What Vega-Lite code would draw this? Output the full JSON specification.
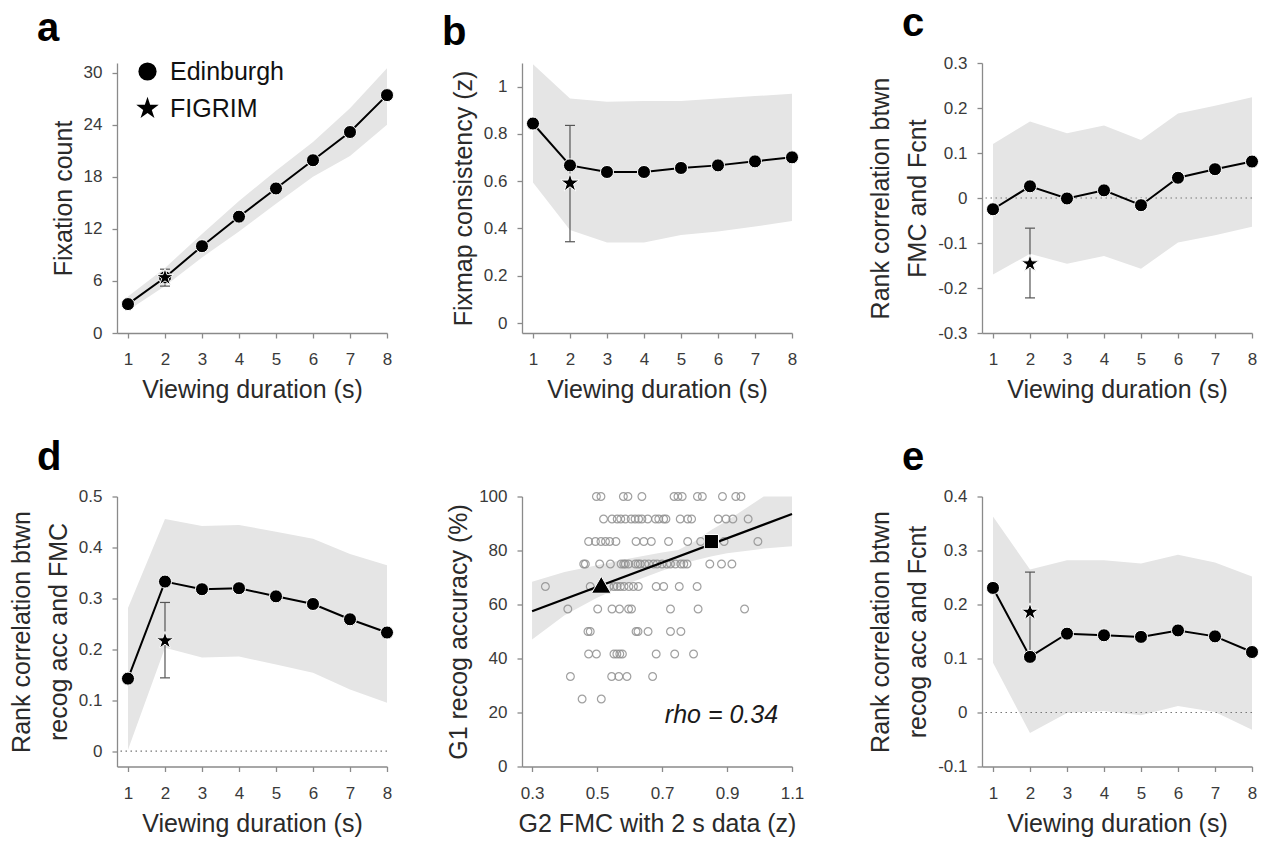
{
  "$schema": "https://vega.github.io/schema/vega-lite/v6.json",
  "background": "white",
  "padding": {"left": 9, "top": 4, "right": 5, "bottom": 5},
  "columns": 5,
  "spacing": {"row": 163.5, "column": 0},
  "bounds": "flush",
  "align": "each",
  "resolve": {"scale": {"shape": "independent"}, "legend": {"shape": "independent"}},
  "datasets": {
    "empty": [],
    "zero": [{"y": 0}],
    "a": [
      {"dur": 1, "mean": 3.33, "lo": 2.6, "hi": 4.2},
      {"dur": 2, "mean": 6.4, "lo": 5.4, "hi": 7.5},
      {"dur": 3, "mean": 10.0, "lo": 8.7, "hi": 11.4},
      {"dur": 4, "mean": 13.4, "lo": 11.7, "hi": 15.2},
      {"dur": 5, "mean": 16.65, "lo": 14.9, "hi": 18.7},
      {"dur": 6, "mean": 19.9, "lo": 18.0, "hi": 22.0},
      {"dur": 7, "mean": 23.15, "lo": 20.4, "hi": 25.9},
      {"dur": 8, "mean": 27.4, "lo": 24.0, "hi": 30.5}
    ],
    "a_star": [{"dur": 2, "val": 6.4, "elo": 5.4, "ehi": 7.35}],
    "b": [
      {"dur": 1, "mean": 0.844, "lo": 0.595, "hi": 1.095},
      {"dur": 2, "mean": 0.667, "lo": 0.394, "hi": 0.95},
      {"dur": 3, "mean": 0.639, "lo": 0.341, "hi": 0.936},
      {"dur": 4, "mean": 0.639, "lo": 0.341, "hi": 0.939},
      {"dur": 5, "mean": 0.656, "lo": 0.372, "hi": 0.939},
      {"dur": 6, "mean": 0.667, "lo": 0.387, "hi": 0.95},
      {"dur": 7, "mean": 0.684, "lo": 0.408, "hi": 0.96},
      {"dur": 8, "mean": 0.701, "lo": 0.432, "hi": 0.97}
    ],
    "b_star": [{"dur": 2, "val": 0.592, "elo": 0.344, "ehi": 0.836}],
    "c": [
      {"dur": 1, "mean": -0.025, "lo": -0.17, "hi": 0.12},
      {"dur": 2, "mean": 0.026, "lo": -0.124, "hi": 0.17},
      {"dur": 3, "mean": -0.001, "lo": -0.146, "hi": 0.144},
      {"dur": 4, "mean": 0.017, "lo": -0.129, "hi": 0.161},
      {"dur": 5, "mean": -0.016, "lo": -0.157, "hi": 0.129},
      {"dur": 6, "mean": 0.045, "lo": -0.099, "hi": 0.188},
      {"dur": 7, "mean": 0.064, "lo": -0.083, "hi": 0.205},
      {"dur": 8, "mean": 0.081, "lo": -0.064, "hi": 0.224}
    ],
    "c_star": [{"dur": 2, "val": -0.146, "elo": -0.222, "ehi": -0.067}],
    "d": [
      {"dur": 1, "mean": 0.1425, "lo": 0.003, "hi": 0.281},
      {"dur": 2, "mean": 0.333, "lo": 0.203, "hi": 0.456},
      {"dur": 3, "mean": 0.318, "lo": 0.184, "hi": 0.442},
      {"dur": 4, "mean": 0.32, "lo": 0.186, "hi": 0.444},
      {"dur": 5, "mean": 0.304, "lo": 0.17, "hi": 0.431},
      {"dur": 6, "mean": 0.289, "lo": 0.154, "hi": 0.417},
      {"dur": 7, "mean": 0.259, "lo": 0.121, "hi": 0.387},
      {"dur": 8, "mean": 0.233, "lo": 0.095, "hi": 0.365}
    ],
    "d_star": [{"dur": 2, "val": 0.217, "elo": 0.144, "ehi": 0.292}],
    "e": [
      {"dur": 1, "mean": 0.2307, "lo": 0.092, "hi": 0.363},
      {"dur": 2, "mean": 0.103, "lo": -0.038, "hi": 0.265},
      {"dur": 3, "mean": 0.146, "lo": -0.001, "hi": 0.282},
      {"dur": 4, "mean": 0.143, "lo": 0.003, "hi": 0.282},
      {"dur": 5, "mean": 0.14, "lo": -0.005, "hi": 0.276},
      {"dur": 6, "mean": 0.152, "lo": 0.012, "hi": 0.292},
      {"dur": 7, "mean": 0.141, "lo": 0.001, "hi": 0.278},
      {"dur": 8, "mean": 0.112, "lo": -0.032, "hi": 0.252}
    ],
    "e_star": [{"dur": 2, "val": 0.186, "elo": 0.112, "ehi": 0.26}],
    "sc_band": [
      {"x": 0.3, "lo": 47, "hi": 68.4},
      {"x": 0.4, "lo": 56, "hi": 72},
      {"x": 0.5, "lo": 62.5, "hi": 74.5},
      {"x": 0.6, "lo": 68, "hi": 77},
      {"x": 0.7, "lo": 72.5, "hi": 79.3},
      {"x": 0.75, "lo": 74.5, "hi": 80.2},
      {"x": 0.8, "lo": 76.3, "hi": 83.3},
      {"x": 0.85, "lo": 77.8, "hi": 87.5},
      {"x": 0.9, "lo": 79, "hi": 91},
      {"x": 1.0, "lo": 80.5, "hi": 99},
      {"x": 1.013, "lo": 80.7, "hi": 100},
      {"x": 1.1, "lo": 81.6, "hi": 100}
    ],
    "sc_fit": [{"x": 0.3, "y": 57.5}, {"x": 1.1, "y": 93.5}],
    "sc_tri": [{"x": 0.513, "y": 67.3}],
    "sc_sq": [{"x": 0.852, "y": 83.3}],
    "sc_text": [{"x": 0.883, "y": 19, "label": "rho = 0.34"}],
    "sc_pts": [
      {"x": 0.498, "y": 100}, {"x": 0.512, "y": 100}, {"x": 0.581, "y": 100}, {"x": 0.595, "y": 100}, {"x": 0.638, "y": 100}, {"x": 0.737, "y": 100}, {"x": 0.749, "y": 100}, {"x": 0.762, "y": 100}, {"x": 0.809, "y": 100}, {"x": 0.824, "y": 100}, {"x": 0.886, "y": 100}, {"x": 0.927, "y": 100}, {"x": 0.943, "y": 100},
      {"x": 0.52, "y": 91.67}, {"x": 0.546, "y": 91.67}, {"x": 0.562, "y": 91.67}, {"x": 0.573, "y": 91.67}, {"x": 0.587, "y": 91.67}, {"x": 0.605, "y": 91.67}, {"x": 0.617, "y": 91.67}, {"x": 0.628, "y": 91.67}, {"x": 0.638, "y": 91.67}, {"x": 0.656, "y": 91.67}, {"x": 0.68, "y": 91.67}, {"x": 0.69, "y": 91.67}, {"x": 0.705, "y": 91.67}, {"x": 0.712, "y": 91.67}, {"x": 0.756, "y": 91.67}, {"x": 0.779, "y": 91.67}, {"x": 0.791, "y": 91.67}, {"x": 0.873, "y": 91.67}, {"x": 0.897, "y": 91.67}, {"x": 0.918, "y": 91.67}, {"x": 0.965, "y": 91.67},
      {"x": 0.474, "y": 83.33}, {"x": 0.495, "y": 83.33}, {"x": 0.512, "y": 83.33}, {"x": 0.526, "y": 83.33}, {"x": 0.539, "y": 83.33}, {"x": 0.558, "y": 83.33}, {"x": 0.62, "y": 83.33}, {"x": 0.644, "y": 83.33}, {"x": 0.667, "y": 83.33}, {"x": 0.72, "y": 83.33}, {"x": 0.779, "y": 83.33}, {"x": 0.819, "y": 83.33}, {"x": 0.891, "y": 83.33}, {"x": 0.995, "y": 83.33},
      {"x": 0.459, "y": 75}, {"x": 0.464, "y": 75}, {"x": 0.508, "y": 75}, {"x": 0.541, "y": 75}, {"x": 0.574, "y": 75}, {"x": 0.582, "y": 75}, {"x": 0.587, "y": 75}, {"x": 0.597, "y": 75}, {"x": 0.618, "y": 75}, {"x": 0.626, "y": 75}, {"x": 0.633, "y": 75}, {"x": 0.647, "y": 75}, {"x": 0.659, "y": 75}, {"x": 0.674, "y": 75}, {"x": 0.685, "y": 75}, {"x": 0.7, "y": 75}, {"x": 0.715, "y": 75}, {"x": 0.726, "y": 75}, {"x": 0.741, "y": 75}, {"x": 0.758, "y": 75}, {"x": 0.767, "y": 75}, {"x": 0.777, "y": 75}, {"x": 0.847, "y": 75}, {"x": 0.883, "y": 75}, {"x": 0.915, "y": 75},
      {"x": 0.341, "y": 66.67}, {"x": 0.479, "y": 66.67}, {"x": 0.51, "y": 66.67}, {"x": 0.537, "y": 66.67}, {"x": 0.552, "y": 66.67}, {"x": 0.562, "y": 66.67}, {"x": 0.572, "y": 66.67}, {"x": 0.583, "y": 66.67}, {"x": 0.598, "y": 66.67}, {"x": 0.612, "y": 66.67}, {"x": 0.627, "y": 66.67}, {"x": 0.682, "y": 66.67}, {"x": 0.705, "y": 66.67}, {"x": 0.753, "y": 66.67}, {"x": 0.808, "y": 66.67},
      {"x": 0.41, "y": 58.33}, {"x": 0.502, "y": 58.33}, {"x": 0.546, "y": 58.33}, {"x": 0.569, "y": 58.33}, {"x": 0.597, "y": 58.33}, {"x": 0.606, "y": 58.33}, {"x": 0.726, "y": 58.33}, {"x": 0.811, "y": 58.33}, {"x": 0.954, "y": 58.33},
      {"x": 0.472, "y": 50}, {"x": 0.479, "y": 50}, {"x": 0.62, "y": 50}, {"x": 0.626, "y": 50}, {"x": 0.657, "y": 50}, {"x": 0.726, "y": 50}, {"x": 0.758, "y": 50},
      {"x": 0.474, "y": 41.67}, {"x": 0.498, "y": 41.67}, {"x": 0.552, "y": 41.67}, {"x": 0.561, "y": 41.67}, {"x": 0.57, "y": 41.67}, {"x": 0.578, "y": 41.67}, {"x": 0.682, "y": 41.67}, {"x": 0.739, "y": 41.67}, {"x": 0.797, "y": 41.67},
      {"x": 0.418, "y": 33.33}, {"x": 0.545, "y": 33.33}, {"x": 0.567, "y": 33.33}, {"x": 0.592, "y": 33.33}, {"x": 0.671, "y": 33.33},
      {"x": 0.454, "y": 25}, {"x": 0.513, "y": 25}
    ]
  },
  "concat": [
    {
      "width": 270, "height": 270,
      "title": {"text": "a"},
      "layer": [
        {"data": {"name": "a"}, "mark": {"type": "area", "color": "#e5e5e5"},
         "encoding": {
           "x": {"field": "dur", "type": "quantitative", "scale": {"domain": [0.703, 8], "nice": false, "zero": false}, "axis": {"values": [1, 2, 3, 4, 5, 6, 7, 8], "tickCount": 10, "title": "Viewing duration (s)"}},
           "y": {"field": "lo", "type": "quantitative", "scale": {"domain": [0, 31.1], "nice": false, "zero": false}, "axis": {"values": [0, 6, 12, 18, 24, 30], "tickCount": 10, "title": "Fixation count"}},
           "y2": {"field": "hi"}}},
        {"data": {"name": "a_star"}, "mark": {"type": "rule", "color": "#555", "strokeWidth": 1.2},
         "encoding": {"x": {"field": "dur", "type": "quantitative"}, "y": {"field": "elo", "type": "quantitative"}, "y2": {"field": "ehi"}}},
        {"data": {"name": "a_star"}, "transform": [{"fold": ["elo", "ehi"], "as": ["end", "v"]}],
         "mark": {"type": "point", "shape": "stroke", "size": 100, "stroke": "#555", "strokeWidth": 1.2, "filled": false, "opacity": 1},
         "encoding": {"x": {"field": "dur", "type": "quantitative"}, "y": {"field": "v", "type": "quantitative"}}},
        {"data": {"name": "a"}, "mark": {"type": "line", "color": "black", "strokeWidth": 2},
         "encoding": {"x": {"field": "dur", "type": "quantitative"}, "y": {"field": "mean", "type": "quantitative"}}},
        {"data": {"name": "a"}, "mark": {"type": "point", "filled": true, "fill": "black", "stroke": "white", "strokeWidth": 1, "size": 170, "opacity": 1},
         "encoding": {"x": {"field": "dur", "type": "quantitative"}, "y": {"field": "mean", "type": "quantitative"},
           "shape": {"datum": "Edinburgh", "type": "nominal",
             "scale": {"domain": ["Edinburgh", "FIGRIM"], "range": ["circle", "M0,-1.3L0.2919,-0.4017L1.2363,-0.4017L0.4723,0.1534L0.7641,1.0517L0,0.4966L-0.7641,1.0517L-0.4723,0.1534L-1.2363,-0.4017L-0.2919,-0.4017Z"]},
             "legend": {"orient": "none", "legendX": 18, "legendY": -4, "title": null, "labelFontSize": 25, "labelColor": "#111", "labelFont": "Liberation Sans", "symbolSize": 330, "symbolFillColor": "black", "symbolStrokeColor": "white", "symbolStrokeWidth": 1, "symbolOpacity": 1, "rowPadding": 9, "labelOffset": 10}}}},
        {"data": {"name": "a_star"}, "mark": {"type": "point", "filled": true, "fill": "black", "stroke": "white", "strokeWidth": 1, "size": 195, "opacity": 1},
         "encoding": {"x": {"field": "dur", "type": "quantitative"}, "y": {"field": "val", "type": "quantitative"}, "shape": {"datum": "FIGRIM", "type": "nominal"}}}
      ]
    },
    {"width": 135, "height": 270, "data": {"name": "empty"}, "mark": {"type": "point", "opacity": 0}},
    {
      "width": 270, "height": 270,
      "title": {"text": "b"},
      "layer": [
        {"data": {"name": "b"}, "mark": {"type": "area", "color": "#e5e5e5"},
         "encoding": {
           "x": {"field": "dur", "type": "quantitative", "scale": {"domain": [0.703, 8], "nice": false, "zero": false}, "axis": {"values": [1, 2, 3, 4, 5, 6, 7, 8], "tickCount": 10, "title": "Viewing duration (s)"}},
           "y": {"field": "lo", "type": "quantitative", "scale": {"domain": [-0.042, 1.1], "nice": false, "zero": false}, "axis": {"values": [0, 0.2, 0.4, 0.6, 0.8, 1], "tickCount": 10, "format": "~g", "title": "Fixmap consistency (z)"}},
           "y2": {"field": "hi"}}},
        {"data": {"name": "b_star"}, "mark": {"type": "rule", "color": "#555", "strokeWidth": 1.2},
         "encoding": {"x": {"field": "dur", "type": "quantitative"}, "y": {"field": "elo", "type": "quantitative"}, "y2": {"field": "ehi"}}},
        {"data": {"name": "b_star"}, "transform": [{"fold": ["elo", "ehi"], "as": ["end", "v"]}],
         "mark": {"type": "point", "shape": "stroke", "size": 100, "stroke": "#555", "strokeWidth": 1.2, "filled": false, "opacity": 1},
         "encoding": {"x": {"field": "dur", "type": "quantitative"}, "y": {"field": "v", "type": "quantitative"}}},
        {"data": {"name": "b"}, "mark": {"type": "line", "color": "black", "strokeWidth": 2},
         "encoding": {"x": {"field": "dur", "type": "quantitative"}, "y": {"field": "mean", "type": "quantitative"}}},
        {"data": {"name": "b"}, "mark": {"type": "point", "shape": "circle", "filled": true, "fill": "black", "stroke": "white", "strokeWidth": 1, "size": 170, "opacity": 1},
         "encoding": {"x": {"field": "dur", "type": "quantitative"}, "y": {"field": "mean", "type": "quantitative"}}},
        {"data": {"name": "b_star"}, "mark": {"type": "point", "shape": "M0,-1L0.2245,-0.309L0.951,-0.309L0.3633,0.118L0.5878,0.809L0,0.382L-0.5878,0.809L-0.3633,0.118L-0.951,-0.309L-0.2245,-0.309Z", "filled": true, "fill": "black", "stroke": "white", "strokeWidth": 1, "size": 380, "opacity": 1},
         "encoding": {"x": {"field": "dur", "type": "quantitative"}, "y": {"field": "val", "type": "quantitative"}}}
      ]
    },
    {"width": 190, "height": 270, "data": {"name": "empty"}, "mark": {"type": "point", "opacity": 0}},
    {
      "width": 270, "height": 270,
      "title": {"text": "c"},
      "layer": [
        {"data": {"name": "c"}, "mark": {"type": "area", "color": "#e5e5e5"},
         "encoding": {
           "x": {"field": "dur", "type": "quantitative", "scale": {"domain": [0.703, 8], "nice": false, "zero": false}, "axis": {"values": [1, 2, 3, 4, 5, 6, 7, 8], "tickCount": 10, "title": "Viewing duration (s)"}},
           "y": {"field": "lo", "type": "quantitative", "scale": {"domain": [-0.3, 0.3], "nice": false, "zero": false}, "axis": {"values": [-0.3, -0.2, -0.1, 0, 0.1, 0.2, 0.3], "tickCount": 10, "format": "~g", "title": ["Rank correlation btwn", "FMC and Fcnt"]}},
           "y2": {"field": "hi"}}},
        {"data": {"name": "zero"}, "mark": {"type": "rule", "color": "#777", "strokeWidth": 1.2, "strokeDash": [1.5, 3.5]},
         "encoding": {"y": {"field": "y", "type": "quantitative"}}},
        {"data": {"name": "c_star"}, "mark": {"type": "rule", "color": "#555", "strokeWidth": 1.2},
         "encoding": {"x": {"field": "dur", "type": "quantitative"}, "y": {"field": "elo", "type": "quantitative"}, "y2": {"field": "ehi"}}},
        {"data": {"name": "c_star"}, "transform": [{"fold": ["elo", "ehi"], "as": ["end", "v"]}],
         "mark": {"type": "point", "shape": "stroke", "size": 100, "stroke": "#555", "strokeWidth": 1.2, "filled": false, "opacity": 1},
         "encoding": {"x": {"field": "dur", "type": "quantitative"}, "y": {"field": "v", "type": "quantitative"}}},
        {"data": {"name": "c"}, "mark": {"type": "line", "color": "black", "strokeWidth": 2},
         "encoding": {"x": {"field": "dur", "type": "quantitative"}, "y": {"field": "mean", "type": "quantitative"}}},
        {"data": {"name": "c"}, "mark": {"type": "point", "shape": "circle", "filled": true, "fill": "black", "stroke": "white", "strokeWidth": 1, "size": 170, "opacity": 1},
         "encoding": {"x": {"field": "dur", "type": "quantitative"}, "y": {"field": "mean", "type": "quantitative"}}},
        {"data": {"name": "c_star"}, "mark": {"type": "point", "shape": "M0,-1L0.2245,-0.309L0.951,-0.309L0.3633,0.118L0.5878,0.809L0,0.382L-0.5878,0.809L-0.3633,0.118L-0.951,-0.309L-0.2245,-0.309Z", "filled": true, "fill": "black", "stroke": "white", "strokeWidth": 1, "size": 340, "opacity": 1},
         "encoding": {"x": {"field": "dur", "type": "quantitative"}, "y": {"field": "val", "type": "quantitative"}}}
      ]
    },
    {
      "width": 270, "height": 270,
      "title": {"text": "d"},
      "layer": [
        {"data": {"name": "d"}, "mark": {"type": "area", "color": "#e5e5e5"},
         "encoding": {
           "x": {"field": "dur", "type": "quantitative", "scale": {"domain": [0.703, 8], "nice": false, "zero": false}, "axis": {"values": [1, 2, 3, 4, 5, 6, 7, 8], "tickCount": 10, "title": "Viewing duration (s)"}},
           "y": {"field": "lo", "type": "quantitative", "scale": {"domain": [-0.03, 0.5], "nice": false, "zero": false}, "axis": {"values": [0, 0.1, 0.2, 0.3, 0.4, 0.5], "tickCount": 10, "format": "~g", "title": ["Rank correlation btwn", "recog acc and FMC"]}},
           "y2": {"field": "hi"}}},
        {"data": {"name": "zero"}, "mark": {"type": "rule", "color": "#777", "strokeWidth": 1.2, "strokeDash": [1.5, 3.5]},
         "encoding": {"y": {"field": "y", "type": "quantitative"}}},
        {"data": {"name": "d_star"}, "mark": {"type": "rule", "color": "#555", "strokeWidth": 1.2},
         "encoding": {"x": {"field": "dur", "type": "quantitative"}, "y": {"field": "elo", "type": "quantitative"}, "y2": {"field": "ehi"}}},
        {"data": {"name": "d_star"}, "transform": [{"fold": ["elo", "ehi"], "as": ["end", "v"]}],
         "mark": {"type": "point", "shape": "stroke", "size": 100, "stroke": "#555", "strokeWidth": 1.2, "filled": false, "opacity": 1},
         "encoding": {"x": {"field": "dur", "type": "quantitative"}, "y": {"field": "v", "type": "quantitative"}}},
        {"data": {"name": "d"}, "mark": {"type": "line", "color": "black", "strokeWidth": 2},
         "encoding": {"x": {"field": "dur", "type": "quantitative"}, "y": {"field": "mean", "type": "quantitative"}}},
        {"data": {"name": "d"}, "mark": {"type": "point", "shape": "circle", "filled": true, "fill": "black", "stroke": "white", "strokeWidth": 1, "size": 170, "opacity": 1},
         "encoding": {"x": {"field": "dur", "type": "quantitative"}, "y": {"field": "mean", "type": "quantitative"}}},
        {"data": {"name": "d_star"}, "mark": {"type": "point", "shape": "M0,-1L0.2245,-0.309L0.951,-0.309L0.3633,0.118L0.5878,0.809L0,0.382L-0.5878,0.809L-0.3633,0.118L-0.951,-0.309L-0.2245,-0.309Z", "filled": true, "fill": "black", "stroke": "white", "strokeWidth": 1, "size": 340, "opacity": 1},
         "encoding": {"x": {"field": "dur", "type": "quantitative"}, "y": {"field": "val", "type": "quantitative"}}}
      ]
    },
    {"width": 135, "height": 270, "data": {"name": "empty"}, "mark": {"type": "point", "opacity": 0}},
    {
      "width": 270, "height": 270,
      "layer": [
        {"data": {"name": "sc_band"}, "mark": {"type": "area", "color": "#e5e5e5"},
         "encoding": {
           "x": {"field": "x", "type": "quantitative", "scale": {"domain": [0.269, 1.1], "nice": false, "zero": false}, "axis": {"values": [0.3, 0.5, 0.7, 0.9, 1.1], "tickCount": 10, "format": "~g", "title": "G2 FMC with 2 s data (z)"}},
           "y": {"field": "lo", "type": "quantitative", "scale": {"domain": [0, 100], "nice": false, "zero": false}, "axis": {"values": [0, 20, 40, 60, 80, 100], "tickCount": 10, "title": "G1 recog accuracy (%)"}},
           "y2": {"field": "hi"}}},
        {"data": {"name": "sc_pts"}, "mark": {"type": "point", "shape": "circle", "filled": false, "stroke": "#8f8f8f", "strokeWidth": 1.2, "size": 60, "opacity": 1, "strokeOpacity": 0.85},
         "encoding": {"x": {"field": "x", "type": "quantitative"}, "y": {"field": "y", "type": "quantitative"}}},
        {"data": {"name": "sc_fit"}, "mark": {"type": "line", "color": "black", "strokeWidth": 2.2},
         "encoding": {"x": {"field": "x", "type": "quantitative"}, "y": {"field": "y", "type": "quantitative"}}},
        {"data": {"name": "sc_tri"}, "mark": {"type": "point", "shape": "triangle-up", "filled": true, "fill": "black", "stroke": "white", "strokeWidth": 1, "size": 380, "opacity": 1},
         "encoding": {"x": {"field": "x", "type": "quantitative"}, "y": {"field": "y", "type": "quantitative"}}},
        {"data": {"name": "sc_sq"}, "mark": {"type": "point", "shape": "square", "filled": true, "fill": "black", "stroke": "white", "strokeWidth": 1, "size": 200, "opacity": 1},
         "encoding": {"x": {"field": "x", "type": "quantitative"}, "y": {"field": "y", "type": "quantitative"}}},
        {"data": {"name": "sc_text"}, "mark": {"type": "text", "fontSize": 25, "fontStyle": "italic", "font": "Liberation Sans", "color": "#1a1a1a", "align": "center", "baseline": "middle"},
         "encoding": {"x": {"field": "x", "type": "quantitative"}, "y": {"field": "y", "type": "quantitative"}, "text": {"field": "label"}}}
      ]
    },
    {"width": 190, "height": 270, "data": {"name": "empty"}, "mark": {"type": "point", "opacity": 0}},
    {
      "width": 270, "height": 270,
      "title": {"text": "e"},
      "layer": [
        {"data": {"name": "e"}, "mark": {"type": "area", "color": "#e5e5e5"},
         "encoding": {
           "x": {"field": "dur", "type": "quantitative", "scale": {"domain": [0.703, 8], "nice": false, "zero": false}, "axis": {"values": [1, 2, 3, 4, 5, 6, 7, 8], "tickCount": 10, "title": "Viewing duration (s)"}},
           "y": {"field": "lo", "type": "quantitative", "scale": {"domain": [-0.1, 0.4], "nice": false, "zero": false}, "axis": {"values": [-0.1, 0, 0.1, 0.2, 0.3, 0.4], "tickCount": 10, "format": "~g", "title": ["Rank correlation btwn", "recog acc and Fcnt"]}},
           "y2": {"field": "hi"}}},
        {"data": {"name": "zero"}, "mark": {"type": "rule", "color": "#777", "strokeWidth": 1.2, "strokeDash": [1.5, 3.5]},
         "encoding": {"y": {"field": "y", "type": "quantitative"}}},
        {"data": {"name": "e_star"}, "mark": {"type": "rule", "color": "#555", "strokeWidth": 1.2},
         "encoding": {"x": {"field": "dur", "type": "quantitative"}, "y": {"field": "elo", "type": "quantitative"}, "y2": {"field": "ehi"}}},
        {"data": {"name": "e_star"}, "transform": [{"fold": ["elo", "ehi"], "as": ["end", "v"]}],
         "mark": {"type": "point", "shape": "stroke", "size": 100, "stroke": "#555", "strokeWidth": 1.2, "filled": false, "opacity": 1},
         "encoding": {"x": {"field": "dur", "type": "quantitative"}, "y": {"field": "v", "type": "quantitative"}}},
        {"data": {"name": "e"}, "mark": {"type": "line", "color": "black", "strokeWidth": 2},
         "encoding": {"x": {"field": "dur", "type": "quantitative"}, "y": {"field": "mean", "type": "quantitative"}}},
        {"data": {"name": "e"}, "mark": {"type": "point", "shape": "circle", "filled": true, "fill": "black", "stroke": "white", "strokeWidth": 1, "size": 170, "opacity": 1},
         "encoding": {"x": {"field": "dur", "type": "quantitative"}, "y": {"field": "mean", "type": "quantitative"}}},
        {"data": {"name": "e_star"}, "mark": {"type": "point", "shape": "M0,-1L0.2245,-0.309L0.951,-0.309L0.3633,0.118L0.5878,0.809L0,0.382L-0.5878,0.809L-0.3633,0.118L-0.951,-0.309L-0.2245,-0.309Z", "filled": true, "fill": "black", "stroke": "white", "strokeWidth": 1, "size": 340, "opacity": 1},
         "encoding": {"x": {"field": "dur", "type": "quantitative"}, "y": {"field": "val", "type": "quantitative"}}}
      ]
    }
  ],
  "config": {
    "font": "Liberation Sans",
    "view": {"stroke": null},
    "locale": {"number": {"decimal": ".", "thousands": ",", "grouping": [3], "currency": ["$", ""], "minus": "-"}},
    "title": {"anchor": "start", "frame": "group", "fontSize": 40, "fontWeight": "bold", "color": "black", "dx": -80, "offset": 9.8, "baseline": "alphabetic", "font": "Liberation Sans"},
    "axis": {"labelFont": "Liberation Sans", "titleFont": "Liberation Sans", "labelFontSize": 17, "titleFontSize": 25, "titleFontWeight": "normal", "labelColor": "#3a3a3a", "titleColor": "#2a2a2a", "domainColor": "#8a8a8a", "tickColor": "#8a8a8a", "domainWidth": 1.3, "tickWidth": 1.3, "tickSize": 5, "grid": false, "labelFlush": false, "labelOverlap": false, "titleLineHeight": 37},
    "axisX": {"labelPadding": 13.5, "titlePadding": 10},
    "axisY": {"labelPadding": 10, "titlePadding": 7}
  }
}
